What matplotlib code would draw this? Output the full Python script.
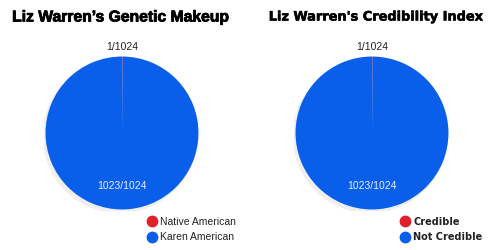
import matplotlib
matplotlib.use("Agg")
import matplotlib.pyplot as plt
import matplotlib.patheffects as pe
from matplotlib.lines import Line2D
from matplotlib.patches import Circle

# datos de las dos tortas
titles = ["Liz Warren\u2019s Genetic Makeup", "Liz Warren's Credibility Index"]
values = [1, 1023]
slice_labels = ["1/1024", "1023/1024"]
legend_left = ["Native American", "Karen American"]
legend_right = ["Credible", "Not Credible"]

colors = ["#e0202a", "#0a5fea"]
cond = ["DejaVu Sans Condensed", "Liberation Sans Narrow", "DejaVu Sans"]

fig = plt.figure(figsize=(5, 2.51), dpi=100)
fig.patch.set_facecolor("white")

W, H = 500, 251
centers = [122, 372]
rad = 78
cy = 134

for k, cx in enumerate(centers):
    ax = fig.add_axes([(cx - rad) / W, (H - cy - rad) / H, 2 * rad / W, 2 * rad / H])
    # sombra suave
    ax.add_patch(Circle((-0.03, -0.04), 1.0, color="#efefef", zorder=0))
    wedges, _ = ax.pie(values, colors=colors, startangle=90, counterclock=False,
                       radius=1.0, wedgeprops=dict(linewidth=0))
    for w in wedges:
        w.set_zorder(2)
    ax.text(0, 1.07, slice_labels[0], ha="center", va="bottom", fontsize=7.5,
            family="Liberation Sans", color="#222222")
    ax.text(0, -0.68, slice_labels[1], ha="center", va="center", fontsize=7.5,
            family="Liberation Sans", color="#e8eefc")
    ax.set_xlim(-1.02, 1.02)
    ax.set_ylim(-1.02, 1.02)
    ax.set_aspect("equal")
    ax.axis("off")

# titulos
fig.text(121 / W, 1 - 18 / H, titles[0], ha="center", va="center", fontsize=11.3,
         fontweight="bold", family="Liberation Sans", color="black",
         path_effects=[pe.withStroke(linewidth=0.6, foreground="black")])
fig.text(376 / W, 1 - 18 / H, titles[1], ha="center", va="center", fontsize=9.3,
         fontweight="bold", family=cond, color="black",
         path_effects=[pe.withStroke(linewidth=0.4, foreground="black")])

# leyendas
def legend(x0, labels, bold):
    for i, lab in enumerate(labels):
        y = 1 - (222 + 15.5 * i) / H
        fig.add_artist(Line2D([x0 / W], [y], marker="o", markersize=7.5,
                              color=colors[i], linestyle="none"))
        fig.text((x0 + 8) / W, y, lab, ha="left", va="center",
                 fontsize=7.5 if not bold else 7,
                 fontweight="bold" if bold else "normal",
                 family=cond if bold else "Liberation Sans",
                 color="#222222")

legend(152, legend_left, False)
legend(405, legend_right, True)

fig.savefig("out.png", dpi=100, facecolor="white")
